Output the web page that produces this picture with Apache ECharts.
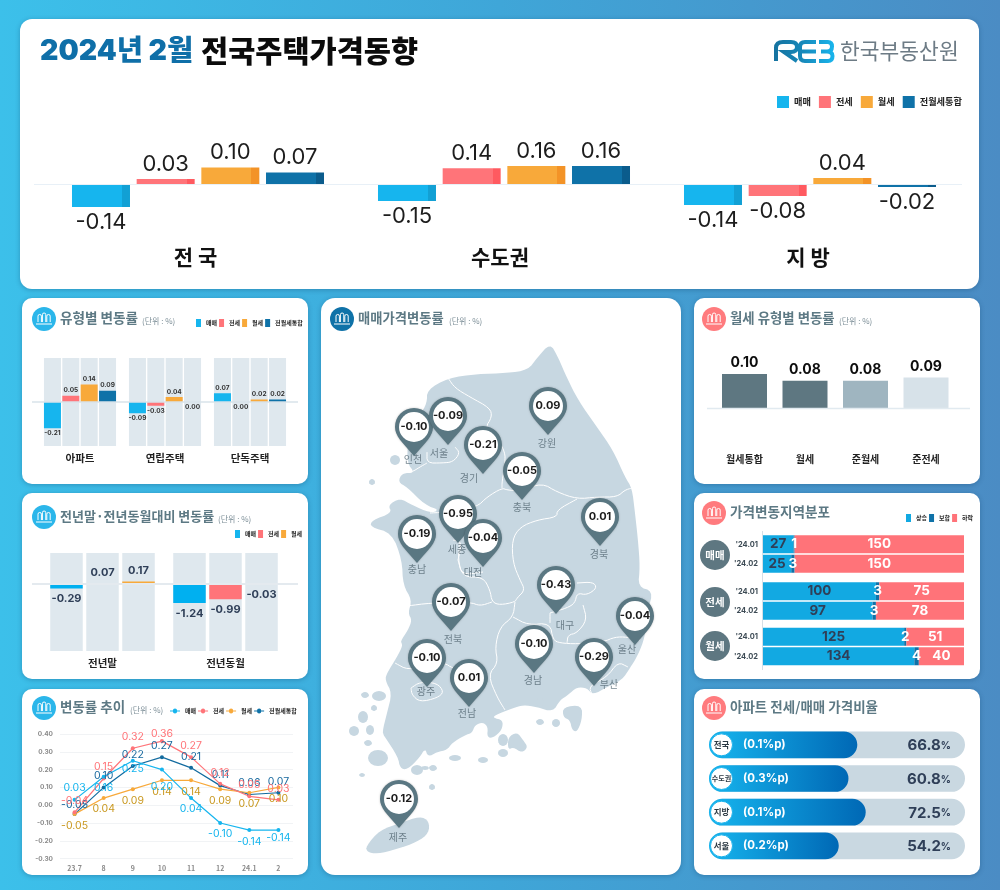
<!DOCTYPE html>
<html>
<head>
<meta charset="utf-8">
<title>2024년 2월 전국주택가격동향</title>
<script src="https://cdn.jsdelivr.net/npm/echarts@6/dist/echarts.min.js"></script>
<style>
html,body{margin:0;padding:0;background:#3fa6d8;}
#main{width:1000px;height:890px;}
</style>
</head>
<body>
<div id="main"></div>
<script>
// 시리즈 이름
const typeNames = ['매매', '전세', '월세', '전월세통합'];

// 상단 : 전국 / 수도권 / 지방
const topGroups = ['전 국', '수도권', '지 방'];
const topSale = [-0.14, -0.15, -0.14];
const topJeonse = [0.03, 0.14, -0.08];
const topRent = [0.10, 0.16, 0.04];
const topTotal = [0.07, 0.16, -0.02];

// 유형별 변동률
const houseTypes = ['아파트', '연립주택', '단독주택'];
const houseSale = [-0.21, -0.09, 0.07];
const houseJeonse = [0.05, -0.03, 0.00];
const houseRent = [0.14, 0.04, 0.02];
const houseTotal = [0.09, 0.00, 0.02];

// 전년말 / 전년동월 대비
const compareGroups = ['전년말', '전년동월'];
const compareSale = [-0.29, -1.24];
const compareJeonse = [0.07, -0.99];
const compareRent = [0.17, -0.03];

// 변동률 추이
const trendMonths = ['23.7', '8', '9', '10', '11', '12', '24.1', '2'];
const trendSale = [0.03, 0.16, 0.25, 0.20, 0.04, -0.10, -0.14, -0.14];
const trendJeonse = [-0.04, 0.15, 0.32, 0.36, 0.27, 0.12, 0.05, 0.03];
const trendRent = [-0.05, 0.04, 0.09, 0.14, 0.14, 0.09, 0.07, 0.10];
const trendTotal = [-0.05, 0.10, 0.22, 0.27, 0.21, 0.11, 0.06, 0.07];

// 매매가격변동률 지도
const regionNames = ['인천', '서울', '경기', '강원', '충북', '충남', '세종', '대전', '경북', '대구', '전북', '경남', '울산', '부산', '광주', '전남', '제주'];
const regionValues = [-0.10, -0.09, -0.21, 0.09, -0.05, -0.19, -0.95, -0.04, 0.01, -0.43, -0.07, -0.10, -0.04, -0.29, -0.10, 0.01, -0.12];
// 지도 좌표계 위의 핀 / 지명 위치
const regionPins = [[414,427],[448,416],[483,445],[548,406],[522,471],[417,534],[458,514],[483,538],[600,517],[556,585],[451,602],[534,644],[635,616],[594,657],[427,658],[469,678],[399,799]];
const regionNamePoints = [[413,459],[439,453],[469,478],[547,443],[522,507],[417,569],[457,549],[473,572],[599,554],[565,625],[453,639],[533,680],[627,649],[609,684],[426,691],[467,713],[398,837]];

// 월세 유형별 변동률
const rentTypes = ['월세통합', '월세', '준월세', '준전세'];
const rentValues = [0.10, 0.08, 0.08, 0.09];

// 가격변동지역분포
const distGroups = ['매매', '전세', '월세'];
const distMonths = ["'24.01", "'24.02"];
const distRise = [27, 25, 100, 97, 125, 134];
const distFlat = [1, 3, 3, 3, 2, 4];
const distFall = [150, 150, 75, 78, 51, 40];

// 아파트 전세/매매 가격비율
const ratioNames = ['전국', '수도권', '지방', '서울'];
const ratioChanges = ['(0.1%p)', '(0.3%p)', '(0.1%p)', '(0.2%p)'];
const ratioValues = [66.8, 60.8, 72.5, 54.2];

const KR = '"Noto Sans CJK KR"';
const NUM = 'Inter, "Noto Sans CJK KR"';
const C_SALE = '#16b5ee', C_JEONSE = '#ff7479', C_RENT = '#f8a93a', C_TOTAL = '#0f72a8';
const TITLE_COLOR = '#5d7984', ICON_BLUE = '#2bb6ea', ICON_NAVY = '#0f72a8', ICON_RED = '#ff7b7e';

// 지도 윤곽 (지도 좌표)
const mainland = [[550,343],[558,357],[567,378],[578,400],[597,427],[613,450],[625,477],[632,488],[635,513],[638,540],[640,567],[638,587],[653,591],[648,610],[645,637],[638,655],[630,668],[622,680],[607,687],[593,695],[587,688],[577,687],[568,695],[560,700],[553,712],[537,707],[523,705],[513,708],[495,715],[493,718],[503,720],[502,730],[493,738],[487,737],[488,727],[483,722],[475,725],[472,733],[465,735],[452,743],[447,750],[437,752],[428,757],[425,748],[420,757],[407,770],[400,768],[398,757],[385,737],[382,733],[387,713],[392,693],[385,680],[387,673],[397,657],[403,645],[400,642],[408,630],[412,620],[408,613],[412,600],[403,585],[402,560],[392,533],[370,527],[372,520],[392,513],[388,505],[400,498],[412,505],[430,513],[440,510],[425,505],[407,487],[398,482],[402,473],[415,473],[407,463],[408,440],[420,415],[427,403],[427,390],[448,378],[477,374],[507,373],[528,370],[537,358]];
const namhae = [[508,737],[517,732],[523,740],[528,747],[522,753],[513,747],[508,750]];
const geoje = [[563,707],[582,705],[582,720],[577,732],[572,730],[570,720],[563,717]];
const jeju = [[366,846],[380,830],[400,823],[420,816],[429,821],[429,833],[417,842],[397,849],[377,854],[367,852]];
const smallIslands = [[395,460,5,5],[372,482,3,3],[365,695,4,3],[379,696,7,5],[374,708,3,3],[363,717,5,6],[370,730,4,5],[354,731,5,5],[368,743,4,3],[378,758,10,8],[362,775,3,2],[417,770,6,5],[425,768,4,2],[433,768,4,3],[432,787,3,3],[455,758,6,3],[483,760,5,3],[503,740,5,6],[503,753,5,4],[540,702,4,4],[540,722,4,3],[556,723,4,4]];
const mapBorders = [
  [[448,378],[455,388],[470,397],[490,408],[492,417],[485,428],[497,438],[505,452],[505,463],[502,482],[502,488]],
  [[430,513],[450,512],[477,507],[487,497],[502,488],[507,490],[520,491],[542,483],[557,492],[577,499],[597,497],[617,497],[625,490],[632,488]],
  [[577,499],[557,510],[557,517],[537,520],[520,527],[512,540],[513,563],[520,580],[525,590],[517,598],[515,602],[500,605],[492,602],[490,590],[483,577],[463,577],[458,560],[460,540],[453,533],[470,510]],
  [[407,606],[430,603],[470,602],[480,606],[492,602]],
  [[515,602],[513,617],[500,627],[495,647],[498,663],[488,675],[497,697],[505,710]],
  [[395,663],[408,670],[425,665],[445,663],[452,668],[470,672],[488,675]],
  [[411,688],[420,682],[437,683],[444,692],[437,698],[420,702],[412,695],[411,688]],
  [[513,617],[528,625],[550,623],[553,640],[560,643],[577,644],[603,642],[615,637],[627,637],[640,640]],
  [[550,613],[567,608],[575,603],[577,593],[587,595],[597,588],[593,582],[577,583]],
  [[583,605],[587,620],[577,633],[568,635],[567,643]],
  [[550,613],[550,623]],
  [[592,695],[589,686],[607,677],[618,662],[628,667]],
  [[427,452],[427,463],[442,463],[453,462],[460,453],[455,447]],
  [[427,463],[420,467],[412,472],[402,473]],
  [[453,540],[462,542],[458,560]],
  [[458,560],[462,575],[483,572]]
];

function blob(c) {
  const pts = [];
  for (let i = 0; i <= 16; i++) {
    const a = i / 16 * Math.PI * 2;
    pts.push([c[0] + Math.cos(a) * c[2], c[1] + Math.sin(a) * c[3]]);
  }
  return pts;
}
// 윤곽선 모서리를 둥글게
function rounded(pts, closed) {
  let cur = pts;
  for (let pass = 0; pass < 2; pass++) {
    const out = closed ? [] : [cur[0]];
    const n = closed ? cur.length : cur.length - 1;
    for (let i = 0; i < n; i++) {
      const a = cur[i], b = cur[(i + 1) % cur.length];
      out.push([a[0] * 0.75 + b[0] * 0.25, a[1] * 0.75 + b[1] * 0.25]);
      out.push([a[0] * 0.25 + b[0] * 0.75, a[1] * 0.25 + b[1] * 0.75]);
    }
    if (!closed) out.push(cur[cur.length - 1]);
    cur = out;
  }
  return cur;
}
function closeRing(r) { return r.concat([r[0]]); }

const mapFeatures = [
  {name: '본토', ring: mainland}, {name: '남해', ring: namhae}, {name: '거제', ring: geoje}, {name: '제주도', ring: jeju}
].map(f => ({type: 'Feature', properties: {name: f.name}, geometry: {type: 'Polygon', coordinates: [closeRing(rounded(f.ring, true))]}}));
smallIslands.forEach((c, i) => {
  mapFeatures.push({type: 'Feature', properties: {name: '섬' + i}, geometry: {type: 'Polygon', coordinates: [blob(c)]}});
});
echarts.registerMap('korea', {type: 'FeatureCollection', features: mapFeatures});

let minX = 1e9, minY = 1e9, maxX = -1e9, maxY = -1e9;
mapFeatures.forEach(f => f.geometry.coordinates[0].forEach(p => {
  minX = Math.min(minX, p[0]); maxX = Math.max(maxX, p[0]);
  minY = Math.min(minY, p[1]); maxY = Math.max(maxY, p[1]);
}));

const graphics = [];
const headIcons = [];
function panel(x, y, w, h, r) {
  graphics.push({type: 'rect', z: -2, shape: {x: x, y: y, width: w, height: h, r: r || 10},
    style: {fill: '#fff', shadowBlur: 5, shadowColor: 'rgba(10,50,90,0.3)', shadowOffsetY: 1}});
}
function txt(x, y, text, font, fill, align) {
  graphics.push({type: 'text', z: 5, style: {x: x, y: y, text: text, font: font, fill: fill, align: align || 'left', verticalAlign: 'middle'}});
}
function hline(x1, y1, x2, y2, color, width) {
  graphics.push({type: 'line', z: 5, shape: {x1: x1, y1: y1, x2: x2, y2: y2}, style: {stroke: color, lineWidth: width}});
}
function panelHead(cx, cy, color, title, titleSize, unitX) {
  graphics.push({type: 'circle', z: 4, shape: {cx: cx, cy: cy, r: 12}, style: {fill: color}});
  headIcons.push([cx, cy]);
  txt(cx + 16, cy - 1, title, 'bold ' + titleSize + 'px ' + KR, TITLE_COLOR);
  if (unitX) txt(unitX, cy + 2, '(단위 : %)', '8px ' + KR, '#7c8e97');
}

// 패널
panel(20, 19, 959, 270, 12);
panel(22, 298, 286, 186);
panel(22, 493, 286, 186);
panel(22, 689, 286, 186);
panel(321, 298, 360, 577, 14);
panel(694, 298, 286, 186);
panel(694, 493, 286, 186);
panel(694, 689, 286, 186);

// 제목, 로고
txt(40, 51, '2024년 2월', '900 28.5px ' + NUM, '#0f6fa8');
txt(201, 51, '전국주택가격동향', '900 29.5px ' + KR, '#0b0b0b');
txt(840, 51, '한국부동산원', '21.5px ' + KR, '#6d7b85');

panelHead(44, 319, ICON_BLUE, '유형별 변동률', 13.6, 142);
panelHead(44, 517, ICON_BLUE, '전년말·전년동월대비 변동률', 13, 218);
panelHead(44, 708, ICON_BLUE, '변동률 추이', 13.5, 130);
panelHead(342, 319, ICON_NAVY, '매매가격변동률', 13.3, 449);
panelHead(714, 319, ICON_RED, '월세 유형별 변동률', 13.4, 839);
panelHead(714, 513, ICON_RED, '가격변동지역분포', 13.6);
panelHead(714, 708, ICON_RED, '아파트 전세/매매 가격비율', 13.5);

// 기준선
hline(34, 184.5, 962, 184.5, '#e8f0f7', 1);
hline(32, 402, 298, 402, '#d9e3ea', 1.5);
hline(32, 584, 298, 584, '#e4eaef', 2);
hline(707, 408.5, 970, 408.5, '#e1eaf0', 1.5);
hline(762.5, 531, 762.5, 670, '#d5dfe6', 1);

const grids = [], xAxes = [], yAxes = [], series = [];
function addGrid(g, x, y) {
  grids.push(g); xAxes.push(Object.assign({gridIndex: grids.length - 1}, x)); yAxes.push(Object.assign({gridIndex: grids.length - 1}, y));
  return grids.length - 1;
}
function catAxis(data, fontSize, margin, color, padRight) {
  return {type: 'category', data: data, axisTick: {show: false}, axisLine: {show: false, onZero: false}, position: 'bottom',
    axisLabel: {margin: margin, interval: 0, fontFamily: KR, fontWeight: 'bold', fontSize: fontSize, color: color || '#222', padding: [0, padRight || 0, 0, 0]}};
}
function fmt(p) {
  const v = Array.isArray(p.value) ? p.value[1] : p.value;
  return v.toFixed(2);
}
function strip(color, dark) {
  return new echarts.graphic.LinearGradient(0, 0, 1, 0, [
    {offset: 0, color: color}, {offset: 0.86, color: color}, {offset: 0.86, color: dark}, {offset: 1, color: dark}
  ]);
}

// 상단 막대 : 묶음마다 축척이 다르다
const topCenters = [198, 504, 810];
const topExtent = [0.3636, 0.531, 0.4];
const topColors = [[C_SALE, '#12a0d4'], [C_JEONSE, '#ff5a60'], [C_RENT, '#f39327'], [C_TOTAL, '#0b5c8c']];
[topSale, topJeonse, topRent, topTotal].forEach((vals, s) => {
  topGroups.forEach((g, i) => {
    if (s === 0) {
      addGrid({left: topCenters[i] - 130, top: 124, width: 260, height: 120},
        catAxis([g], 21, 3, '#111', [5, 8, 4][i]),
        {type: 'value', show: false, min: -topExtent[i], max: topExtent[i]});
    }
    series.push({name: typeNames[s], type: 'bar', xAxisIndex: i, yAxisIndex: i, data: [vals[i]], barWidth: 58, barGap: '11.5%',
      itemStyle: {color: strip(topColors[s][0], topColors[s][1])},
      label: {show: true, position: 'outside', distance: 4, formatter: fmt, fontFamily: NUM, fontSize: 22, color: '#1d1d1d'}});
  });
});

// 유형별 변동률
const trackColor = '#dfe8ee';
const gHouse = addGrid({left: 37.5, top: 358, width: 255, height: 88},
  catAxis(houseTypes, 10.5, 7), {type: 'value', show: false, min: -0.352, max: 0.352});
[houseSale, houseJeonse, houseRent, houseTotal].forEach((vals, s) => {
  series.push({name: typeNames[s], type: 'bar', xAxisIndex: gHouse, yAxisIndex: gHouse, data: vals, barWidth: 17, barGap: '8%',
    showBackground: true, backgroundStyle: {color: trackColor},
    itemStyle: {color: topColors[s][0]},
    label: {show: true, position: 'outside', distance: 2, formatter: fmt, fontFamily: NUM, fontWeight: 'bold', fontSize: 6.5, color: '#333'}});
});

// 전년말 / 전년동월
const gCompare = addGrid({left: 41, top: 553, width: 246, height: 98},
  catAxis(compareGroups, 10.5, 7), {type: 'value', show: false, min: -4.38, max: 2.026});
[compareSale, compareJeonse, compareRent].forEach((vals, s) => {
  series.push({name: typeNames[s], type: 'bar', xAxisIndex: gCompare, yAxisIndex: gCompare, data: vals, barWidth: 32.5, barGap: '10.8%',
    showBackground: true, backgroundStyle: {color: trackColor},
    itemStyle: {color: ['#00b0f0', C_JEONSE, C_RENT][s]},
    label: {show: true, position: 'outside', distance: 5, formatter: fmt, fontFamily: NUM, fontWeight: 'bold', fontSize: 11, color: '#2f3f58'}});
});

// 변동률 추이
const gTrend = addGrid({left: 60, top: 734, width: 233, height: 124.6},
  catAxis(trendMonths, 7, 6, '#8a8a8a'),
  {type: 'value', min: -0.3, max: 0.4, interval: 0.1, axisLine: {show: false}, axisTick: {show: false},
    splitLine: {lineStyle: {color: '#f1f3f5', width: 1}},
    axisLabel: {formatter: v => v.toFixed(2), margin: 7, fontFamily: NUM, fontWeight: 'bold', fontSize: 6.5, color: '#8a8a8a'}});
[
  {vals: trendTotal, idx: 3, line: '#136b9f', label: '#1a6a9f', pos: 'top', gaps: {0: 2}},
  {vals: trendRent, idx: 2, line: C_RENT, label: '#c9981f', pos: 'bottom', gaps: {}},
  {vals: trendJeonse, idx: 1, line: C_JEONSE, label: '#ff7478', pos: 'top', gaps: {3: 0}},
  {vals: trendSale, idx: 0, line: C_SALE, label: '#15b5ee', pos: 'bottom', gaps: {2: 1, 3: 10, 7: 0}}
].forEach(d => {
  const data = d.vals.map((v, i) => d.gaps[i] === undefined ? v : {value: v, label: {distance: d.gaps[i]}});
  if (d.idx === 0) data[0] = {value: d.vals[0], label: {position: 'top', distance: 5}};
  series.push({name: typeNames[d.idx], type: 'line', xAxisIndex: gTrend, yAxisIndex: gTrend, data: data, symbol: 'circle', symbolSize: 4,
    lineStyle: {color: d.line, width: 1.2}, itemStyle: {color: d.line},
    label: {show: true, position: d.pos, distance: 4, formatter: fmt, fontFamily: NUM, fontSize: 10.5, color: d.label}});
});

// 월세 유형별
const gRent = addGrid({left: 714.25, top: 340, width: 242, height: 68},
  catAxis(rentTypes, 10, 46), {type: 'value', show: false, min: 0, max: 0.2});
series.push({name: '월세 유형별', type: 'bar', xAxisIndex: gRent, yAxisIndex: gRent, barWidth: 45,
  data: rentValues.map((v, i) => ({value: v, itemStyle: {color: ['#5e7781', '#5e7781', '#9fb5c0', '#d7e2e9'][i]}})),
  label: {show: true, position: 'top', distance: 4, formatter: fmt, fontFamily: NUM, fontWeight: 'bold', fontSize: 14, color: '#0d0d0d'}});

// 가격변동지역분포
const distTops = [534.5, 581.5, 627];
const distCircles = [555, 602, 646];
distGroups.forEach((g, i) => {
  const gi = addGrid({left: 763, top: distTops[i], width: 201, height: 39},
    {type: 'value', show: false, min: 0, max: 178},
    {type: 'category', inverse: true, data: distMonths, axisLine: {show: false}, axisTick: {show: false},
      axisLabel: {margin: 5, fontFamily: NUM, fontWeight: 'bold', fontSize: 7.5, color: '#3d4b55'}});
  [[distRise, '상승', '#12a9e2', '#2f3f58'], [distFlat, '보합', C_TOTAL, '#fff'], [distFall, '하락', '#ff7379', '#fff']].forEach(d => {
    series.push({name: d[1], type: 'bar', stack: 'dist' + i, xAxisIndex: gi, yAxisIndex: gi, barWidth: 18,
      data: d[0].slice(i * 2, i * 2 + 2), itemStyle: {color: d[2]},
      label: {show: true, position: 'inside', fontFamily: NUM, fontWeight: 'bold', fontSize: 13.5, color: d[3]}});
  });
  graphics.push({type: 'circle', z: 4, shape: {cx: 715, cy: distCircles[i], r: 15}, style: {fill: '#5e7781'}});
  txt(715, distCircles[i], g, 'bold 10.5px ' + KR, '#fff', 'center');
});

// 가격비율
const gRatio = addGrid({left: 709, top: 728, width: 256, height: 134.7},
  {type: 'value', show: false, min: -34, max: 140},
  {type: 'category', show: false, inverse: true, data: ratioNames});
series.push({name: '가격비율', type: 'custom', xAxisIndex: gRatio, yAxisIndex: gRatio,
  data: ratioValues.map((v, i) => [v, i]), encode: {x: 0, y: 1},
  renderItem: function (params, api) {
    const i = api.value(1);
    const end = api.coord([api.value(0), i]);
    const start = api.coord([-34, i]);
    const last = api.coord([140, i]);
    const h = 26.7, cy = end[1];
    const name = ratioNames[i];
    return {type: 'group', children: [
      {type: 'rect', shape: {x: start[0], y: cy - h / 2, width: last[0] - start[0], height: h, r: h / 2}, style: {fill: '#c9d8e1'}},
      {type: 'rect', shape: {x: start[0], y: cy - h / 2, width: end[0] - start[0], height: h, r: h / 2},
        style: {fill: new echarts.graphic.LinearGradient(0, 0, 1, 0, [{offset: 0, color: '#16b5ee'}, {offset: 1, color: '#0068b5'}])}},
      {type: 'circle', shape: {cx: start[0] + 12.5, cy: cy, r: 11}, style: {fill: '#fff', stroke: '#19b2ec', lineWidth: 1}},
      {type: 'text', style: {x: start[0] + 12.5, y: cy, text: name, align: 'center', verticalAlign: 'middle',
        font: 'bold ' + (name.length > 2 ? 7 : 8.5) + 'px ' + KR, fill: '#2d3a44'}},
      {type: 'text', style: {x: 743, y: cy, text: ratioChanges[i], align: 'left', verticalAlign: 'middle',
        font: 'bold 11.5px ' + NUM, fill: '#fff'}},
      {type: 'text', style: {x: 951, y: cy + 1, text: '{a|' + api.value(0).toFixed(1) + '}{b|%}', align: 'right', verticalAlign: 'middle',
        rich: {a: {font: 'bold 15px ' + NUM, fill: '#2f3f58'}, b: {font: 'bold 10px ' + NUM, fill: '#2f3f58'}}}}
    ]};
  }});

// 지도
series.push({name: '시도 경계', type: 'lines', coordinateSystem: 'geo', polyline: true, silent: true, z: 2,
  data: mapBorders.map(b => ({coords: rounded(b, false)})), lineStyle: {color: '#fff', width: 1, opacity: 1}, effect: {show: false}});
series.push({name: '지명', type: 'scatter', coordinateSystem: 'geo', silent: true, z: 3, symbolSize: 0,
  data: regionNamePoints.map((p, i) => ({name: regionNames[i], value: p})),
  label: {show: true, position: 'inside', formatter: '{b}', fontFamily: KR, fontSize: 10, color: '#566a75'}});
series.push({name: '지역별 변동률', type: 'custom', coordinateSystem: 'geo', silent: true, z: 4,
  data: regionPins.map((p, i) => [p[0], p[1], regionValues[i]]),
  renderItem: function (params, api) {
    const c = api.coord([api.value(0), api.value(1)]);
    return {type: 'group', children: [
      {type: 'path', shape: {
        pathData: 'M19 0C29.5 0 38 8.5 38 19C38 28 31 34 19 48C7 34 0 28 0 19C0 8.5 8.5 0 19 0Z',
        x: c[0] - 19, y: c[1] - 19, width: 38, height: 48, layout: 'cover'
      }, style: {fill: '#5a7782', shadowBlur: 2, shadowColor: 'rgba(0,0,0,0.25)'}},
      {type: 'circle', shape: {cx: c[0], cy: c[1], r: 15}, style: {fill: '#fff'}},
      {type: 'text', style: {x: c[0], y: c[1], text: api.value(2).toFixed(2), align: 'center', verticalAlign: 'middle',
        font: 'bold 11px ' + NUM, fill: '#1c1c1c'}}
    ]};
  }});

// 로고와 제목 아이콘
series.push({name: '장식', type: 'custom', coordinateSystem: 'none', silent: true, z: 6, data: [0],
  renderItem: function () {
    const children = headIcons.map(p => ({type: 'path', shape: {
      pathData: 'M2 10V4A1.7 1.7 0 0 1 5.4 4V10M6.4 10V2.5A1.7 1.7 0 0 1 9.8 2.5V10M10.8 10V4A1.7 1.7 0 0 1 14.2 4V10M0 12H16',
      x: p[0] - 8, y: p[1] - 6, width: 16, height: 11, layout: 'cover'
    }, style: {fill: 'none', stroke: '#fff', lineWidth: 1}}));
    children.push({type: 'path', shape: {
      pathData: 'M776 61V48Q776 42 783 42H791Q797 42 797 47Q797 52 791 52H784L797 61M816 42H805Q800 42 800 47V56Q800 61 805 61H816M802 51.5H816M819 42H828Q832 42 832 46.5Q832 51.5 827 51.5H821M827 51.5Q832.5 51.5 832.5 56Q832.5 61 828 61H819',
      x: 776, y: 42, width: 56.5, height: 19, layout: 'cover'
    }, style: {fill: 'none', lineWidth: 4, stroke: new echarts.graphic.LinearGradient(0, 0, 1, 0, [
      {offset: 0, color: '#15729f'}, {offset: 0.45, color: '#1787b8'}, {offset: 1, color: '#19b6ee'}
    ])}});
    return {type: 'group', children: children};
  }});

const smallLegendText = {fontFamily: KR, fontWeight: 'bold', fontSize: 6, color: '#222'};
function swatches(names, colors) {
  return names.map((n, i) => ({name: n, icon: 'rect', itemStyle: {color: colors[i]}}));
}
const typeColors = [C_SALE, C_JEONSE, C_RENT, C_TOTAL];
const lineIcon = 'path://M0 5H7A5 5 0 0 1 17 5H24V7H17A5 5 0 0 1 7 7H0Z';

const option = {
  animation: false,
  backgroundColor: new echarts.graphic.LinearGradient(0, 0, 1, 0, [
    {offset: 0, color: '#3cc0ea'}, {offset: 0.5, color: '#3fa6d8'}, {offset: 1, color: '#4b8cc4'}
  ]),
  textStyle: {fontFamily: KR},
  geo: {map: 'korea', silent: true, roam: false, aspectScale: 1,
    projection: {project: p => p, unproject: p => p},
    left: minX, top: minY, width: maxX - minX, height: maxY - minY,
    itemStyle: {areaColor: '#c7d7e1', borderWidth: 0}, label: {show: false}},
  legend: [
    {left: 777, top: 96, padding: 0, selectedMode: false, itemWidth: 12, itemHeight: 12, itemGap: 8,
      textStyle: {fontFamily: KR, fontWeight: 'bold', fontSize: 9.2, color: '#222'},
      data: swatches(typeNames, typeColors)},
    {left: 196, top: 319, padding: 0, selectedMode: false, itemWidth: 5, itemHeight: 8, itemGap: 2, textStyle: smallLegendText,
      data: swatches(typeNames, typeColors)},
    {left: 235, top: 530, padding: 0, selectedMode: false, itemWidth: 5, itemHeight: 8, itemGap: 2, textStyle: smallLegendText,
      data: swatches(typeNames.slice(0, 3), typeColors)},
    {left: 170, top: 708, padding: 0, selectedMode: false, itemWidth: 10, itemHeight: 7, itemGap: 2, textStyle: smallLegendText,
      data: typeNames.map((n, i) => ({name: n, icon: lineIcon, itemStyle: {color: typeColors[i]}}))},
    {left: 906, top: 514, padding: 0, selectedMode: false, itemWidth: 5, itemHeight: 8, itemGap: 2, textStyle: smallLegendText,
      data: swatches(['상승', '보합', '하락'], ['#12a9e2', C_TOTAL, '#ff7379'])}
  ],
  grid: grids,
  xAxis: xAxes,
  yAxis: yAxes,
  graphic: {elements: graphics},
  series: series
};

const myChart = echarts.init(document.getElementById('main'));
myChart.setOption(option);
</script>
</body>
</html>
